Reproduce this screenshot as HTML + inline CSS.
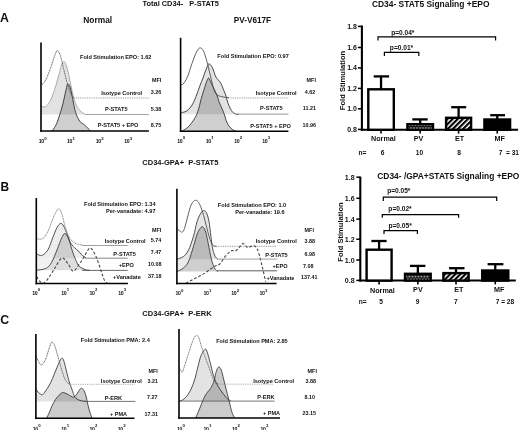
<!DOCTYPE html>
<html><head><meta charset="utf-8"><style>
html,body{margin:0;padding:0;background:#fff;width:520px;height:430px;overflow:hidden}
svg{display:block}
text{font-family:"Liberation Sans",sans-serif;stroke:none}
svg{filter:blur(0.3px)}
</style></head><body>
<svg width="520" height="430" viewBox="0 0 520 430">
<defs>
<pattern id="hatch" patternUnits="userSpaceOnUse" width="3.6" height="3.6" patternTransform="rotate(45)">
<rect width="3.6" height="3.6" fill="#fff"/><rect x="0" y="0" width="2.1" height="3.6" fill="#000"/></pattern>
<pattern id="check" patternUnits="userSpaceOnUse" width="3.0" height="5.4" x="0.4" y="0.2">
<rect width="3.0" height="5.4" fill="#000"/><rect x="0.3" y="0.3" width="1.5" height="1.5" fill="#fff"/><rect x="1.8" y="3.0" width="1.5" height="1.5" fill="#fff"/><rect x="-1.2" y="3.0" width="1.5" height="1.5" fill="#fff"/></pattern>
</defs>
<rect width="520" height="430" fill="#fff"/>
<text x="0.00" y="21.73" font-size="12.3" text-anchor="start" font-weight="bold" fill="#111" >A</text>
<text x="0.60" y="190.88" font-size="11.9" text-anchor="start" font-weight="bold" fill="#111" >B</text>
<text x="0.20" y="323.83" font-size="12.3" text-anchor="start" font-weight="bold" fill="#111" >C</text>
<text x="142.60" y="6.46" font-size="7.4" text-anchor="start" font-weight="bold" fill="#111" >Total CD34-&#160;&#160; P-STAT5</text>
<text x="83.30" y="22.62" font-size="8.4" text-anchor="start" font-weight="bold" fill="#111" >Normal</text>
<text x="233.80" y="22.55" font-size="8.2" text-anchor="start" font-weight="bold" fill="#111" >PV-V617F</text>
<text x="142.30" y="165.40" font-size="7.5" text-anchor="start" font-weight="bold" fill="#111" >CD34-GPA+&#160; P-STAT5</text>
<text x="142.30" y="315.80" font-size="7.5" text-anchor="start" font-weight="bold" fill="#111" >CD34-GPA+&#160; P-ERK</text>
<path d="M41.00,105.80 C41.50,106.00 43.00,107.05 44.00,107.00 C45.00,106.95 45.90,106.62 47.00,105.50 C48.10,104.38 49.60,102.22 50.60,100.30 C51.60,98.38 52.25,96.02 53.00,94.00 C53.75,91.98 54.43,90.28 55.10,88.20 C55.77,86.12 56.37,83.77 57.00,81.50 C57.63,79.23 58.32,76.77 58.90,74.60 C59.48,72.43 59.98,70.30 60.50,68.50 C61.02,66.70 61.38,64.97 62.00,63.80 C62.62,62.63 63.45,61.13 64.20,61.50 C64.95,61.87 65.75,63.82 66.50,66.00 C67.25,68.18 67.97,71.40 68.70,74.60 C69.43,77.80 70.15,81.67 70.90,85.20 C71.65,88.73 72.32,92.53 73.20,95.80 C74.08,99.07 75.07,102.30 76.20,104.80 C77.33,107.30 78.47,109.18 80.00,110.80 C81.53,112.42 84.50,113.88 85.40,114.50 L85.40,114.5 L41.00,114.5 Z" fill="#000" fill-opacity="0.11" stroke="none"/>
<path d="M41.00,105.80 C41.50,106.00 43.00,107.05 44.00,107.00 C45.00,106.95 45.90,106.62 47.00,105.50 C48.10,104.38 49.60,102.22 50.60,100.30 C51.60,98.38 52.25,96.02 53.00,94.00 C53.75,91.98 54.43,90.28 55.10,88.20 C55.77,86.12 56.37,83.77 57.00,81.50 C57.63,79.23 58.32,76.77 58.90,74.60 C59.48,72.43 59.98,70.30 60.50,68.50 C61.02,66.70 61.38,64.97 62.00,63.80 C62.62,62.63 63.45,61.13 64.20,61.50 C64.95,61.87 65.75,63.82 66.50,66.00 C67.25,68.18 67.97,71.40 68.70,74.60 C69.43,77.80 70.15,81.67 70.90,85.20 C71.65,88.73 72.32,92.53 73.20,95.80 C74.08,99.07 75.07,102.30 76.20,104.80 C77.33,107.30 78.47,109.18 80.00,110.80 C81.53,112.42 84.50,113.88 85.40,114.50" fill="none" stroke="#999" stroke-width="0.8" stroke-linejoin="round"/>
<path d="M52.30,130.80 C52.78,130.07 54.25,128.20 55.20,126.40 C56.15,124.60 56.77,123.57 58.00,120.00 C59.23,116.43 61.27,110.00 62.60,105.00 C63.93,100.00 65.15,93.50 66.00,90.00 C66.85,86.50 67.00,84.43 67.70,84.00 C68.40,83.57 69.42,85.17 70.20,87.40 C70.98,89.63 71.48,93.17 72.40,97.40 C73.32,101.63 74.42,108.77 75.70,112.80 C76.98,116.83 78.63,119.58 80.10,121.60 C81.57,123.62 82.85,123.43 84.50,124.90 C86.15,126.37 89.08,129.48 90.00,130.40 L90.00,131.0 L52.30,131.0 Z" fill="#000" fill-opacity="0.19" stroke="none"/>
<path d="M52.30,130.80 C52.78,130.07 54.25,128.20 55.20,126.40 C56.15,124.60 56.77,123.57 58.00,120.00 C59.23,116.43 61.27,110.00 62.60,105.00 C63.93,100.00 65.15,93.50 66.00,90.00 C66.85,86.50 67.00,84.43 67.70,84.00 C68.40,83.57 69.42,85.17 70.20,87.40 C70.98,89.63 71.48,93.17 72.40,97.40 C73.32,101.63 74.42,108.77 75.70,112.80 C76.98,116.83 78.63,119.58 80.10,121.60 C81.57,123.62 82.85,123.43 84.50,124.90 C86.15,126.37 89.08,129.48 90.00,130.40" fill="none" stroke="#333" stroke-width="0.9" stroke-linejoin="round"/>
<path d="M40.90,83.00 C41.18,83.18 41.77,84.65 42.60,84.10 C43.43,83.55 44.62,82.27 45.90,79.70 C47.18,77.13 48.82,72.75 50.30,68.70 C51.78,64.65 53.62,58.42 54.80,55.40 C55.98,52.38 56.48,50.60 57.40,50.60 C58.32,50.60 59.27,52.38 60.30,55.40 C61.33,58.42 62.50,64.28 63.60,68.70 C64.70,73.12 65.80,78.05 66.90,81.90 C68.00,85.75 69.27,89.35 70.20,91.80 C71.13,94.25 71.78,95.57 72.50,96.60 C73.22,97.63 74.17,97.77 74.50,98.00" fill="none" stroke="#444" stroke-width="0.85" stroke-linejoin="round" stroke-dasharray="1.1,0.6"/>
<line x1="74.5" y1="98.0" x2="148.9" y2="98.0" stroke="#777" stroke-width="0.8" stroke-dasharray="0.9,0.9"/>
<line x1="85" y1="114.5" x2="148.9" y2="114.5" stroke="#999" stroke-width="0.9" />
<line x1="41.0" y1="42.6" x2="41.0" y2="131.8" stroke="#000" stroke-width="1.6" />
<line x1="40.2" y1="131.0" x2="148.9" y2="131.0" stroke="#000" stroke-width="1.6" />
<text x="38.80" y="142.85" font-size="5.2" font-weight="bold" fill="#111" letter-spacing="-0.4" style="stroke-width:0.22px">10<tspan dx="0.5" dy="-3.3" font-size="4.3">0</tspan></text>
<text x="66.90" y="142.85" font-size="5.2" font-weight="bold" fill="#111" letter-spacing="-0.4" style="stroke-width:0.22px">10<tspan dx="0.5" dy="-3.3" font-size="4.3">1</tspan></text>
<text x="95.80" y="142.85" font-size="5.2" font-weight="bold" fill="#111" letter-spacing="-0.4" style="stroke-width:0.22px">10<tspan dx="0.5" dy="-3.3" font-size="4.3">2</tspan></text>
<text x="124.20" y="142.85" font-size="5.2" font-weight="bold" fill="#111" letter-spacing="-0.4" style="stroke-width:0.22px">10<tspan dx="0.5" dy="-3.3" font-size="4.3">3</tspan></text>
<text x="80.00" y="58.82" font-size="5.6" text-anchor="start" font-weight="bold" fill="#111" >Fold Stimulation EPO: 1.62</text>
<text x="161.20" y="82.44" font-size="5.3999999999999995" text-anchor="end" font-weight="bold" fill="#111" >MFI</text>
<text x="142.20" y="94.72" font-size="5.6" text-anchor="end" font-weight="bold" fill="#111" >Isotype Control</text>
<text x="161.20" y="94.14" font-size="5.3999999999999995" text-anchor="end" font-weight="bold" fill="#111" >3.26</text>
<text x="127.50" y="111.12" font-size="5.6" text-anchor="end" font-weight="bold" fill="#111" >P-STAT5</text>
<text x="161.20" y="110.94" font-size="5.3999999999999995" text-anchor="end" font-weight="bold" fill="#111" >5.38</text>
<text x="138.40" y="127.22" font-size="5.6" text-anchor="end" font-weight="bold" fill="#111" >P-STAT5 + EPO</text>
<text x="161.20" y="126.84" font-size="5.3999999999999995" text-anchor="end" font-weight="bold" fill="#111" >8.75</text>
<path d="M180.60,112.60 C181.33,112.47 183.70,112.30 185.00,111.80 C186.30,111.30 187.25,110.68 188.40,109.60 C189.55,108.52 190.88,106.87 191.90,105.30 C192.92,103.73 193.72,101.92 194.50,100.20 C195.28,98.48 195.68,97.45 196.60,95.00 C197.52,92.55 198.92,88.38 200.00,85.50 C201.08,82.62 202.18,80.12 203.10,77.70 C204.02,75.28 204.73,73.02 205.50,71.00 C206.27,68.98 207.08,66.80 207.70,65.60 C208.32,64.40 208.40,63.42 209.20,63.80 C210.00,64.18 211.38,65.70 212.50,67.90 C213.62,70.10 214.57,74.53 215.90,77.00 C217.23,79.47 219.17,80.42 220.50,82.70 C221.83,84.98 223.03,88.65 223.90,90.70 C224.77,92.75 225.17,93.40 225.70,95.00 C226.23,96.60 226.50,98.38 227.10,100.30 C227.70,102.22 228.42,104.58 229.30,106.50 C230.18,108.42 231.37,110.55 232.40,111.80 C233.43,113.05 234.48,113.58 235.50,114.00 C236.52,114.42 238.00,114.25 238.50,114.30 L238.50,114.2 L180.60,114.2 Z" fill="#000" fill-opacity="0.11" stroke="none"/>
<path d="M180.60,112.60 C181.33,112.47 183.70,112.30 185.00,111.80 C186.30,111.30 187.25,110.68 188.40,109.60 C189.55,108.52 190.88,106.87 191.90,105.30 C192.92,103.73 193.72,101.92 194.50,100.20 C195.28,98.48 195.68,97.45 196.60,95.00 C197.52,92.55 198.92,88.38 200.00,85.50 C201.08,82.62 202.18,80.12 203.10,77.70 C204.02,75.28 204.73,73.02 205.50,71.00 C206.27,68.98 207.08,66.80 207.70,65.60 C208.32,64.40 208.40,63.42 209.20,63.80 C210.00,64.18 211.38,65.70 212.50,67.90 C213.62,70.10 214.57,74.53 215.90,77.00 C217.23,79.47 219.17,80.42 220.50,82.70 C221.83,84.98 223.03,88.65 223.90,90.70 C224.77,92.75 225.17,93.40 225.70,95.00 C226.23,96.60 226.50,98.38 227.10,100.30 C227.70,102.22 228.42,104.58 229.30,106.50 C230.18,108.42 231.37,110.55 232.40,111.80 C233.43,113.05 234.48,113.58 235.50,114.00 C236.52,114.42 238.00,114.25 238.50,114.30" fill="none" stroke="#333" stroke-width="0.9" stroke-linejoin="round"/>
<path d="M182.00,130.80 C182.50,130.57 183.93,130.07 185.00,129.40 C186.07,128.73 187.25,127.95 188.40,126.80 C189.55,125.65 190.75,124.07 191.90,122.50 C193.05,120.93 194.30,119.27 195.30,117.40 C196.30,115.53 197.18,113.32 197.90,111.30 C198.62,109.28 199.03,107.45 199.60,105.30 C200.17,103.15 200.58,100.95 201.30,98.40 C202.02,95.85 203.03,92.73 203.90,90.00 C204.77,87.27 205.72,84.00 206.50,82.00 C207.28,80.00 207.93,78.08 208.60,78.00 C209.27,77.92 209.68,79.83 210.50,81.50 C211.32,83.17 212.43,85.75 213.50,88.00 C214.57,90.25 215.97,92.65 216.90,95.00 C217.83,97.35 218.28,99.90 219.10,102.10 C219.92,104.30 220.98,106.30 221.80,108.20 C222.62,110.10 223.27,111.43 224.00,113.50 C224.73,115.57 225.40,118.53 226.20,120.60 C227.00,122.67 227.77,124.43 228.80,125.90 C229.83,127.37 231.28,128.55 232.40,129.40 C233.52,130.25 234.98,130.73 235.50,131.00 L235.50,131.0 L182.00,131.0 Z" fill="#000" fill-opacity="0.19" stroke="none"/>
<path d="M182.00,130.80 C182.50,130.57 183.93,130.07 185.00,129.40 C186.07,128.73 187.25,127.95 188.40,126.80 C189.55,125.65 190.75,124.07 191.90,122.50 C193.05,120.93 194.30,119.27 195.30,117.40 C196.30,115.53 197.18,113.32 197.90,111.30 C198.62,109.28 199.03,107.45 199.60,105.30 C200.17,103.15 200.58,100.95 201.30,98.40 C202.02,95.85 203.03,92.73 203.90,90.00 C204.77,87.27 205.72,84.00 206.50,82.00 C207.28,80.00 207.93,78.08 208.60,78.00 C209.27,77.92 209.68,79.83 210.50,81.50 C211.32,83.17 212.43,85.75 213.50,88.00 C214.57,90.25 215.97,92.65 216.90,95.00 C217.83,97.35 218.28,99.90 219.10,102.10 C219.92,104.30 220.98,106.30 221.80,108.20 C222.62,110.10 223.27,111.43 224.00,113.50 C224.73,115.57 225.40,118.53 226.20,120.60 C227.00,122.67 227.77,124.43 228.80,125.90 C229.83,127.37 231.28,128.55 232.40,129.40 C233.52,130.25 234.98,130.73 235.50,131.00" fill="none" stroke="#333" stroke-width="0.9" stroke-linejoin="round"/>
<path d="M180.60,83.90 C180.97,83.97 181.67,85.45 182.80,84.30 C183.93,83.15 185.87,80.48 187.40,77.00 C188.93,73.52 190.48,67.57 192.00,63.40 C193.52,59.23 195.18,54.58 196.50,52.00 C197.82,49.42 198.75,48.10 199.90,47.90 C201.05,47.70 202.25,48.60 203.40,50.80 C204.55,53.00 205.67,57.10 206.80,61.10 C207.93,65.10 209.07,70.25 210.20,74.80 C211.33,79.35 212.47,85.07 213.60,88.40 C214.73,91.73 215.28,93.35 217.00,94.80 C218.72,96.25 221.90,96.63 223.90,97.10 C225.90,97.57 228.15,97.52 229.00,97.60" fill="none" stroke="#444" stroke-width="0.85" stroke-linejoin="round"/>
<line x1="228" y1="98.0" x2="288.4" y2="98.0" stroke="#777" stroke-width="0.8" stroke-dasharray="0.9,0.9"/>
<line x1="237" y1="114.1" x2="288.4" y2="114.1" stroke="#777" stroke-width="0.8" />
<line x1="180.6" y1="37.8" x2="180.6" y2="132.0" stroke="#000" stroke-width="1.6" />
<line x1="179.79999999999998" y1="131.2" x2="288.4" y2="131.2" stroke="#000" stroke-width="1.6" />
<text x="177.20" y="142.75" font-size="5.2" font-weight="bold" fill="#111" letter-spacing="-0.4" style="stroke-width:0.22px">10<tspan dx="0.5" dy="-3.3" font-size="4.3">0</tspan></text>
<text x="205.80" y="142.75" font-size="5.2" font-weight="bold" fill="#111" letter-spacing="-0.4" style="stroke-width:0.22px">10<tspan dx="0.5" dy="-3.3" font-size="4.3">1</tspan></text>
<text x="234.20" y="142.75" font-size="5.2" font-weight="bold" fill="#111" letter-spacing="-0.4" style="stroke-width:0.22px">10<tspan dx="0.5" dy="-3.3" font-size="4.3">2</tspan></text>
<text x="262.30" y="142.75" font-size="5.2" font-weight="bold" fill="#111" letter-spacing="-0.4" style="stroke-width:0.22px">10<tspan dx="0.5" dy="-3.3" font-size="4.3">3</tspan></text>
<text x="217.30" y="58.42" font-size="5.6" text-anchor="start" font-weight="bold" fill="#111" >Fold Stimulation EPO: 0.97</text>
<text x="315.90" y="81.94" font-size="5.3999999999999995" text-anchor="end" font-weight="bold" fill="#111" >MFI</text>
<text x="296.70" y="94.72" font-size="5.6" text-anchor="end" font-weight="bold" fill="#111" >Isotype Control</text>
<text x="315.20" y="94.24" font-size="5.3999999999999995" text-anchor="end" font-weight="bold" fill="#111" >4.62</text>
<text x="282.60" y="110.42" font-size="5.6" text-anchor="end" font-weight="bold" fill="#111" >P-STAT5</text>
<text x="315.90" y="110.14" font-size="5.3999999999999995" text-anchor="end" font-weight="bold" fill="#111" >11.21</text>
<text x="290.80" y="127.62" font-size="5.6" text-anchor="end" font-weight="bold" fill="#111" >P-STAT5 + EPO</text>
<text x="315.90" y="126.84" font-size="5.3999999999999995" text-anchor="end" font-weight="bold" fill="#111" >10.96</text>
<path d="M36.40,253.70 C37.08,254.00 39.22,255.43 40.50,255.50 C41.78,255.57 42.78,255.18 44.10,254.10 C45.42,253.02 46.95,251.77 48.40,249.00 C49.85,246.23 51.35,241.10 52.80,237.50 C54.25,233.90 55.78,229.75 57.10,227.40 C58.42,225.05 59.62,223.63 60.70,223.40 C61.78,223.17 62.63,224.48 63.60,226.00 C64.57,227.52 65.42,229.87 66.50,232.50 C67.58,235.13 68.78,239.28 70.10,241.80 C71.42,244.32 72.97,246.03 74.40,247.60 C75.83,249.17 77.50,250.00 78.70,251.20 C79.90,252.40 80.40,253.68 81.60,254.80 C82.80,255.92 85.18,257.38 85.90,257.90 L85.90,258.0 L36.40,258.0 Z" fill="#000" fill-opacity="0.07" stroke="none"/>
<path d="M36.4,258.0 L53.6,258.0 L51.4,262.8 L45.6,268.5 L36.4,270.2 Z" fill="#000" fill-opacity="0.05"/>
<path d="M36.40,270.20 C37.93,269.92 43.10,269.73 45.60,268.50 C48.10,267.27 49.47,265.97 51.40,262.80 C53.33,259.63 55.53,253.55 57.20,249.50 C58.87,245.45 60.10,241.17 61.40,238.50 C62.70,235.83 63.77,233.33 65.00,233.50 C66.23,233.67 67.60,236.67 68.80,239.50 C70.00,242.33 71.22,247.52 72.20,250.50 C73.18,253.48 73.70,254.98 74.70,257.40 C75.70,259.82 77.03,263.25 78.20,265.00 C79.37,266.75 80.35,267.07 81.70,267.90 C83.05,268.73 84.92,269.60 86.30,270.00 C87.68,270.40 89.38,270.25 90.00,270.30 L90.00,270.3 L36.40,270.3 Z" fill="#000" fill-opacity="0.13" stroke="none"/>
<path d="M36.40,270.20 C37.93,269.92 43.10,269.73 45.60,268.50 C48.10,267.27 49.47,265.97 51.40,262.80 C53.33,259.63 55.53,253.55 57.20,249.50 C58.87,245.45 60.10,241.17 61.40,238.50 C62.70,235.83 63.77,233.33 65.00,233.50 C66.23,233.67 67.60,236.67 68.80,239.50 C70.00,242.33 71.22,247.52 72.20,250.50 C73.18,253.48 73.70,254.98 74.70,257.40 C75.70,259.82 77.03,263.25 78.20,265.00 C79.37,266.75 80.35,267.07 81.70,267.90 C83.05,268.73 84.92,269.60 86.30,270.00 C87.68,270.40 89.38,270.25 90.00,270.30" fill="none" stroke="#333" stroke-width="0.85" stroke-linejoin="round"/>
<path d="M36.40,253.70 C37.08,254.00 39.22,255.43 40.50,255.50 C41.78,255.57 42.78,255.18 44.10,254.10 C45.42,253.02 46.95,251.77 48.40,249.00 C49.85,246.23 51.35,241.10 52.80,237.50 C54.25,233.90 55.78,229.75 57.10,227.40 C58.42,225.05 59.62,223.63 60.70,223.40 C61.78,223.17 62.63,224.48 63.60,226.00 C64.57,227.52 65.42,229.87 66.50,232.50 C67.58,235.13 68.78,239.28 70.10,241.80 C71.42,244.32 72.97,246.03 74.40,247.60 C75.83,249.17 77.50,250.00 78.70,251.20 C79.90,252.40 80.40,253.68 81.60,254.80 C82.80,255.92 85.18,257.38 85.90,257.90" fill="none" stroke="#333" stroke-width="0.85" stroke-linejoin="round"/>
<path d="M36.40,238.70 C37.08,238.78 39.22,239.40 40.50,239.20 C41.78,239.00 42.78,238.98 44.10,237.50 C45.42,236.02 46.83,233.67 48.40,230.30 C49.97,226.93 52.05,220.67 53.50,217.30 C54.95,213.93 56.22,211.50 57.10,210.10 C57.98,208.70 58.20,208.78 58.80,208.90 C59.40,209.02 60.03,209.40 60.70,210.80 C61.37,212.20 62.08,214.77 62.80,217.30 C63.52,219.83 64.03,222.87 65.00,226.00 C65.97,229.13 67.28,233.47 68.60,236.10 C69.92,238.73 71.45,240.48 72.90,241.80 C74.35,243.12 75.62,243.42 77.30,244.00 C78.98,244.58 82.05,245.08 83.00,245.30" fill="none" stroke="#777" stroke-width="0.85" stroke-linejoin="round" stroke-dasharray="1.2,0.5"/>
<path d="M36.60,276.50 C37.17,277.33 38.78,280.42 40.00,281.50 C41.22,282.58 42.38,283.72 43.90,283.00 C45.42,282.28 47.27,279.72 49.10,277.20 C50.93,274.68 52.77,271.10 54.90,267.90 C57.03,264.70 59.77,258.77 61.90,258.00 C64.03,257.23 65.80,261.10 67.70,263.30 C69.60,265.50 71.38,271.05 73.30,271.20 C75.22,271.35 77.45,266.52 79.20,264.20 C80.95,261.88 82.38,259.60 83.80,257.30 C85.22,255.00 86.53,251.93 87.70,250.40 C88.87,248.87 89.48,247.25 90.80,248.10 C92.12,248.95 94.22,252.72 95.60,255.50 C96.98,258.28 98.02,261.70 99.10,264.80 C100.18,267.90 101.13,271.35 102.10,274.10 C103.07,276.85 104.00,279.78 104.90,281.30 C105.80,282.82 107.07,282.88 107.50,283.20" fill="none" stroke="#444" stroke-width="1.1" stroke-dasharray="2.8,1.9"/>
<line x1="82" y1="245.5" x2="127.7" y2="245.5" stroke="#888" stroke-width="0.8" />
<line x1="85" y1="258.2" x2="127.7" y2="258.2" stroke="#666" stroke-width="0.8" />
<line x1="82" y1="270.4" x2="127.7" y2="270.4" stroke="#444" stroke-width="0.8" />
<line x1="36.3" y1="198.0" x2="36.3" y2="284.3" stroke="#000" stroke-width="1.6" />
<line x1="35.5" y1="283.5" x2="127.9" y2="283.5" stroke="#000" stroke-width="1.6" />
<text x="32.30" y="294.75" font-size="5.2" font-weight="bold" fill="#111" letter-spacing="-0.4" style="stroke-width:0.22px">10<tspan dx="0.5" dy="-3.3" font-size="4.3">0</tspan></text>
<text x="61.20" y="294.75" font-size="5.2" font-weight="bold" fill="#111" letter-spacing="-0.4" style="stroke-width:0.22px">10<tspan dx="0.5" dy="-3.3" font-size="4.3">1</tspan></text>
<text x="89.50" y="294.75" font-size="5.2" font-weight="bold" fill="#111" letter-spacing="-0.4" style="stroke-width:0.22px">10<tspan dx="0.5" dy="-3.3" font-size="4.3">2</tspan></text>
<text x="118.20" y="294.75" font-size="5.2" font-weight="bold" fill="#111" letter-spacing="-0.4" style="stroke-width:0.22px">10<tspan dx="0.5" dy="-3.3" font-size="4.3">3</tspan></text>
<text x="155.50" y="206.32" font-size="5.6" text-anchor="end" font-weight="bold" fill="#111" >Fold Stimulation EPO: 1.34</text>
<text x="155.50" y="212.62" font-size="5.6" text-anchor="end" font-weight="bold" fill="#111" >Per-vanadate: 4.97</text>
<text x="161.20" y="232.24" font-size="5.3999999999999995" text-anchor="end" font-weight="bold" fill="#111" >MFI</text>
<text x="145.70" y="242.72" font-size="5.6" text-anchor="end" font-weight="bold" fill="#111" >Isotype Control</text>
<text x="161.20" y="241.54" font-size="5.3999999999999995" text-anchor="end" font-weight="bold" fill="#111" >5.74</text>
<text x="135.80" y="255.92" font-size="5.6" text-anchor="end" font-weight="bold" fill="#111" >P-STAT5</text>
<text x="161.20" y="254.44" font-size="5.3999999999999995" text-anchor="end" font-weight="bold" fill="#111" >7.47</text>
<text x="133.80" y="267.02" font-size="5.6" text-anchor="end" font-weight="bold" fill="#111" >+EPO</text>
<text x="161.60" y="265.74" font-size="5.3999999999999995" text-anchor="end" font-weight="bold" fill="#111" >10.08</text>
<text x="140.80" y="279.32" font-size="5.6" text-anchor="end" font-weight="bold" fill="#111" >+Vanadate</text>
<text x="161.60" y="278.14" font-size="5.3999999999999995" text-anchor="end" font-weight="bold" fill="#111" >37.18</text>
<path d="M177.00,259.20 C178.05,258.77 181.40,258.08 183.30,256.60 C185.20,255.12 186.70,253.70 188.40,250.30 C190.10,246.90 192.02,241.12 193.50,236.20 C194.98,231.28 196.02,224.73 197.30,220.80 C198.58,216.87 200.13,214.30 201.20,212.60 C202.27,210.90 202.85,210.60 203.70,210.60 C204.55,210.60 205.43,210.90 206.30,212.60 C207.17,214.30 208.13,216.87 208.90,220.80 C209.67,224.73 210.27,231.50 210.90,236.20 C211.53,240.90 211.97,245.60 212.70,249.00 C213.43,252.40 214.45,254.90 215.30,256.60 C216.15,258.30 217.38,258.77 217.80,259.20 L217.80,259.2 L177.00,259.2 Z" fill="#000" fill-opacity="0.1" stroke="none"/>
<path d="M177.00,259.20 C178.05,258.77 181.40,258.08 183.30,256.60 C185.20,255.12 186.70,253.70 188.40,250.30 C190.10,246.90 192.02,241.12 193.50,236.20 C194.98,231.28 196.02,224.73 197.30,220.80 C198.58,216.87 200.13,214.30 201.20,212.60 C202.27,210.90 202.85,210.60 203.70,210.60 C204.55,210.60 205.43,210.90 206.30,212.60 C207.17,214.30 208.13,216.87 208.90,220.80 C209.67,224.73 210.27,231.50 210.90,236.20 C211.53,240.90 211.97,245.60 212.70,249.00 C213.43,252.40 214.45,254.90 215.30,256.60 C216.15,258.30 217.38,258.77 217.80,259.20" fill="none" stroke="#333" stroke-width="0.85" stroke-linejoin="round"/>
<path d="M177.0,259.2 L189.4,259.2 L188.4,261.8 L183.3,268.2 L177.0,271.5 Z" fill="#000" fill-opacity="0.08"/>
<path d="M177.00,271.50 C178.05,270.95 181.40,269.82 183.30,268.20 C185.20,266.58 186.70,265.43 188.40,261.80 C190.10,258.17 192.02,251.10 193.50,246.40 C194.98,241.70 196.02,236.80 197.30,233.60 C198.58,230.40 200.22,228.27 201.20,227.20 C202.18,226.13 202.43,226.35 203.20,227.20 C203.97,228.05 204.95,229.52 205.80,232.30 C206.65,235.08 207.37,239.42 208.30,243.90 C209.23,248.38 210.37,255.15 211.40,259.20 C212.43,263.25 213.43,266.15 214.50,268.20 C215.57,270.25 217.25,270.95 217.80,271.50 L217.80,271.5 L177.00,271.5 Z" fill="#000" fill-opacity="0.19" stroke="none"/>
<path d="M177.00,271.50 C178.05,270.95 181.40,269.82 183.30,268.20 C185.20,266.58 186.70,265.43 188.40,261.80 C190.10,258.17 192.02,251.10 193.50,246.40 C194.98,241.70 196.02,236.80 197.30,233.60 C198.58,230.40 200.22,228.27 201.20,227.20 C202.18,226.13 202.43,226.35 203.20,227.20 C203.97,228.05 204.95,229.52 205.80,232.30 C206.65,235.08 207.37,239.42 208.30,243.90 C209.23,248.38 210.37,255.15 211.40,259.20 C212.43,263.25 213.43,266.15 214.50,268.20 C215.57,270.25 217.25,270.95 217.80,271.50" fill="none" stroke="#333" stroke-width="0.85" stroke-linejoin="round"/>
<path d="M177.00,229.00 C177.53,229.35 179.37,230.55 180.20,231.10 C181.03,231.65 181.28,232.73 182.00,232.30 C182.72,231.87 183.52,231.27 184.50,228.50 C185.48,225.73 186.83,219.53 187.90,215.70 C188.97,211.87 189.88,207.97 190.90,205.50 C191.92,203.03 193.13,201.75 194.00,200.90 C194.87,200.05 195.33,200.15 196.10,200.40 C196.87,200.65 197.75,201.13 198.60,202.40 C199.45,203.67 200.35,205.78 201.20,208.00 C202.05,210.22 202.85,212.72 203.70,215.70 C204.55,218.68 205.35,222.27 206.30,225.90 C207.25,229.53 208.33,234.30 209.40,237.50 C210.47,240.70 211.52,243.62 212.70,245.10 C213.88,246.58 215.87,246.18 216.50,246.40" fill="none" stroke="#444" stroke-width="0.85" stroke-linejoin="round"/>
<path d="M185.80,283.40 C187.30,282.57 192.02,279.87 194.80,278.40 C197.58,276.93 199.95,276.10 202.50,274.60 C205.05,273.10 207.97,270.83 210.10,269.40 C212.23,267.97 213.68,266.90 215.30,266.00 C216.92,265.10 218.23,265.47 219.80,264.00 C221.37,262.53 223.28,259.02 224.70,257.20 C226.12,255.38 227.08,254.20 228.30,253.10 C229.52,252.00 230.77,250.95 232.00,250.60 C233.23,250.25 234.45,251.60 235.70,251.00 C236.95,250.40 238.28,248.25 239.50,247.00 C240.72,245.75 241.65,243.40 243.00,243.50 C244.35,243.60 246.27,247.12 247.60,247.60 C248.93,248.08 249.93,246.72 251.00,246.40 C252.07,246.08 253.05,245.43 254.00,245.70 C254.95,245.97 255.88,246.68 256.70,248.00 C257.52,249.32 257.92,250.23 258.90,253.60 C259.88,256.97 261.47,263.52 262.60,268.20 C263.73,272.88 265.18,279.45 265.70,281.70" fill="none" stroke="#444" stroke-width="1.1" stroke-dasharray="2.8,1.9"/>
<line x1="214" y1="246.3" x2="276.6" y2="246.3" stroke="#666" stroke-width="0.75" stroke-dasharray="0.9,0.9"/>
<line x1="217" y1="259.1" x2="277.2" y2="259.1" stroke="#888" stroke-width="0.8" />
<line x1="217" y1="270.8" x2="277.2" y2="270.8" stroke="#333" stroke-width="0.8" />
<line x1="176.9" y1="188.8" x2="176.9" y2="284.3" stroke="#000" stroke-width="1.6" />
<line x1="176.1" y1="283.5" x2="276.6" y2="283.5" stroke="#000" stroke-width="1.6" />
<text x="175.60" y="295.15" font-size="5.2" font-weight="bold" fill="#111" letter-spacing="-0.4" style="stroke-width:0.22px">10<tspan dx="0.5" dy="-3.3" font-size="4.3">0</tspan></text>
<text x="203.50" y="295.15" font-size="5.2" font-weight="bold" fill="#111" letter-spacing="-0.4" style="stroke-width:0.22px">10<tspan dx="0.5" dy="-3.3" font-size="4.3">1</tspan></text>
<text x="231.20" y="295.15" font-size="5.2" font-weight="bold" fill="#111" letter-spacing="-0.4" style="stroke-width:0.22px">10<tspan dx="0.5" dy="-3.3" font-size="4.3">2</tspan></text>
<text x="259.50" y="295.15" font-size="5.2" font-weight="bold" fill="#111" letter-spacing="-0.4" style="stroke-width:0.22px">10<tspan dx="0.5" dy="-3.3" font-size="4.3">3</tspan></text>
<text x="217.80" y="206.72" font-size="5.6" text-anchor="start" font-weight="bold" fill="#111" >Fold Stimulation EPO: 1.0</text>
<text x="284.60" y="213.52" font-size="5.6" text-anchor="end" font-weight="bold" fill="#111" >Per-vanadate: 19.6</text>
<text x="313.90" y="232.44" font-size="5.3999999999999995" text-anchor="end" font-weight="bold" fill="#111" >MFI</text>
<text x="296.80" y="243.32" font-size="5.6" text-anchor="end" font-weight="bold" fill="#111" >Isotype Control</text>
<text x="315.00" y="242.64" font-size="5.3999999999999995" text-anchor="end" font-weight="bold" fill="#111" >3.88</text>
<text x="287.70" y="256.82" font-size="5.6" text-anchor="end" font-weight="bold" fill="#111" >P-STAT5</text>
<text x="315.00" y="256.14" font-size="5.3999999999999995" text-anchor="end" font-weight="bold" fill="#111" >6.98</text>
<text x="287.70" y="268.32" font-size="5.6" text-anchor="end" font-weight="bold" fill="#111" >+EPO</text>
<text x="313.40" y="267.54" font-size="5.3999999999999995" text-anchor="end" font-weight="bold" fill="#111" >7.08</text>
<text x="294.40" y="279.52" font-size="5.6" text-anchor="end" font-weight="bold" fill="#111" >+Vanadate</text>
<text x="317.40" y="279.34" font-size="5.3999999999999995" text-anchor="end" font-weight="bold" fill="#111" >137.41</text>
<path d="M35.90,389.20 C36.42,389.83 37.90,392.08 39.00,393.00 C40.10,393.92 41.42,395.03 42.50,394.70 C43.58,394.37 44.42,392.48 45.50,391.00 C46.58,389.52 47.83,387.88 49.00,385.80 C50.17,383.72 51.42,380.95 52.50,378.50 C53.58,376.05 54.55,373.43 55.50,371.10 C56.45,368.77 57.38,366.38 58.20,364.50 C59.02,362.62 59.77,360.87 60.40,359.80 C61.03,358.73 61.48,358.07 62.00,358.10 C62.52,358.13 62.95,358.63 63.50,360.00 C64.05,361.37 64.47,363.08 65.30,366.30 C66.13,369.52 67.42,375.52 68.50,379.30 C69.58,383.08 70.72,386.02 71.80,389.00 C72.88,391.98 73.65,395.30 75.00,397.20 C76.35,399.10 78.00,399.70 79.90,400.40 C81.80,401.10 85.32,401.23 86.40,401.40 L86.40,401.4 L35.90,401.4 Z" fill="#000" fill-opacity="0.11" stroke="none"/>
<path d="M35.90,389.20 C36.42,389.83 37.90,392.08 39.00,393.00 C40.10,393.92 41.42,395.03 42.50,394.70 C43.58,394.37 44.42,392.48 45.50,391.00 C46.58,389.52 47.83,387.88 49.00,385.80 C50.17,383.72 51.42,380.95 52.50,378.50 C53.58,376.05 54.55,373.43 55.50,371.10 C56.45,368.77 57.38,366.38 58.20,364.50 C59.02,362.62 59.77,360.87 60.40,359.80 C61.03,358.73 61.48,358.07 62.00,358.10 C62.52,358.13 62.95,358.63 63.50,360.00 C64.05,361.37 64.47,363.08 65.30,366.30 C66.13,369.52 67.42,375.52 68.50,379.30 C69.58,383.08 70.72,386.02 71.80,389.00 C72.88,391.98 73.65,395.30 75.00,397.20 C76.35,399.10 78.00,399.70 79.90,400.40 C81.80,401.10 85.32,401.23 86.40,401.40" fill="none" stroke="#333" stroke-width="0.85" stroke-linejoin="round"/>
<path d="M46.60,418.30 C47.08,417.25 48.55,414.17 49.50,412.00 C50.45,409.83 51.30,407.38 52.30,405.30 C53.30,403.22 54.42,401.13 55.50,399.50 C56.58,397.87 57.80,396.58 58.80,395.50 C59.80,394.42 60.70,393.48 61.50,393.00 C62.30,392.52 62.85,392.52 63.60,392.60 C64.35,392.68 65.18,393.15 66.00,393.50 C66.82,393.85 67.67,394.23 68.50,394.70 C69.33,395.17 70.18,395.88 71.00,396.30 C71.82,396.72 72.65,397.28 73.40,397.20 C74.15,397.12 74.82,396.48 75.50,395.80 C76.18,395.12 76.83,394.10 77.50,393.10 C78.17,392.10 78.83,390.62 79.50,389.80 C80.17,388.98 80.88,388.25 81.50,388.20 C82.12,388.15 82.65,388.82 83.20,389.50 C83.75,390.18 84.25,390.88 84.80,392.30 C85.35,393.72 85.97,395.83 86.50,398.00 C87.03,400.17 87.42,402.88 88.00,405.30 C88.58,407.72 89.32,410.33 90.00,412.50 C90.68,414.67 91.75,417.33 92.10,418.30 L92.10,418.3 L46.60,418.3 Z" fill="#000" fill-opacity="0.2" stroke="none"/>
<path d="M46.60,418.30 C47.08,417.25 48.55,414.17 49.50,412.00 C50.45,409.83 51.30,407.38 52.30,405.30 C53.30,403.22 54.42,401.13 55.50,399.50 C56.58,397.87 57.80,396.58 58.80,395.50 C59.80,394.42 60.70,393.48 61.50,393.00 C62.30,392.52 62.85,392.52 63.60,392.60 C64.35,392.68 65.18,393.15 66.00,393.50 C66.82,393.85 67.67,394.23 68.50,394.70 C69.33,395.17 70.18,395.88 71.00,396.30 C71.82,396.72 72.65,397.28 73.40,397.20 C74.15,397.12 74.82,396.48 75.50,395.80 C76.18,395.12 76.83,394.10 77.50,393.10 C78.17,392.10 78.83,390.62 79.50,389.80 C80.17,388.98 80.88,388.25 81.50,388.20 C82.12,388.15 82.65,388.82 83.20,389.50 C83.75,390.18 84.25,390.88 84.80,392.30 C85.35,393.72 85.97,395.83 86.50,398.00 C87.03,400.17 87.42,402.88 88.00,405.30 C88.58,407.72 89.32,410.33 90.00,412.50 C90.68,414.67 91.75,417.33 92.10,418.30" fill="none" stroke="#333" stroke-width="0.85" stroke-linejoin="round"/>
<path d="M35.90,355.60 C36.33,356.58 37.62,359.93 38.50,361.50 C39.38,363.07 40.32,364.83 41.20,365.00 C42.08,365.17 42.92,363.85 43.80,362.50 C44.68,361.15 45.58,359.32 46.50,356.90 C47.42,354.48 48.40,350.47 49.30,348.00 C50.20,345.53 51.02,342.52 51.90,342.10 C52.78,341.68 53.70,343.48 54.60,345.50 C55.50,347.52 55.95,349.60 57.30,354.20 C58.65,358.80 61.25,368.63 62.70,373.10 C64.15,377.57 64.88,379.13 66.00,381.00 C67.12,382.87 68.83,383.75 69.40,384.30" fill="none" stroke="#555" stroke-width="0.85" stroke-linejoin="round" stroke-dasharray="1.2,0.5"/>
<line x1="69" y1="384.3" x2="134.5" y2="384.3" stroke="#888" stroke-width="0.75" stroke-dasharray="0.9,0.9"/>
<line x1="84" y1="401.4" x2="135.4" y2="401.4" stroke="#555" stroke-width="0.8" />
<line x1="35.9" y1="334.0" x2="35.9" y2="419.1" stroke="#000" stroke-width="1.6" />
<line x1="35.1" y1="418.3" x2="134.5" y2="418.3" stroke="#000" stroke-width="1.6" />
<text x="32.80" y="430.65" font-size="5.2" font-weight="bold" fill="#111" letter-spacing="-0.4" style="stroke-width:0.22px">10<tspan dx="0.5" dy="-3.3" font-size="4.3">0</tspan></text>
<text x="61.20" y="430.65" font-size="5.2" font-weight="bold" fill="#111" letter-spacing="-0.4" style="stroke-width:0.22px">10<tspan dx="0.5" dy="-3.3" font-size="4.3">1</tspan></text>
<text x="89.50" y="430.65" font-size="5.2" font-weight="bold" fill="#111" letter-spacing="-0.4" style="stroke-width:0.22px">10<tspan dx="0.5" dy="-3.3" font-size="4.3">2</tspan></text>
<text x="117.70" y="430.65" font-size="5.2" font-weight="bold" fill="#111" letter-spacing="-0.4" style="stroke-width:0.22px">10<tspan dx="0.5" dy="-3.3" font-size="4.3">3</tspan></text>
<text x="80.80" y="342.02" font-size="5.6" text-anchor="start" font-weight="bold" fill="#111" >Fold Stimulation PMA: 2.4</text>
<text x="157.80" y="372.74" font-size="5.3999999999999995" text-anchor="end" font-weight="bold" fill="#111" >MFI</text>
<text x="141.90" y="383.42" font-size="5.6" text-anchor="end" font-weight="bold" fill="#111" >Isotype Control</text>
<text x="158.00" y="383.14" font-size="5.3999999999999995" text-anchor="end" font-weight="bold" fill="#111" >3.21</text>
<text x="122.10" y="399.52" font-size="5.6" text-anchor="end" font-weight="bold" fill="#111" >P-ERK</text>
<text x="157.40" y="399.24" font-size="5.3999999999999995" text-anchor="end" font-weight="bold" fill="#111" >7.27</text>
<text x="127.00" y="416.08" font-size="5.5" text-anchor="end" font-weight="bold" fill="#111" >+ PMA</text>
<text x="158.00" y="415.94" font-size="5.3999999999999995" text-anchor="end" font-weight="bold" fill="#111" >17.31</text>
<path d="M179.40,401.00 C179.92,400.83 181.50,400.55 182.50,400.00 C183.50,399.45 184.43,398.70 185.40,397.70 C186.37,396.70 187.37,395.40 188.30,394.00 C189.23,392.60 190.22,390.88 191.00,389.30 C191.78,387.72 192.37,386.20 193.00,384.50 C193.63,382.80 194.25,380.93 194.80,379.10 C195.35,377.27 195.83,375.35 196.30,373.50 C196.77,371.65 196.93,370.63 197.60,368.00 C198.27,365.37 199.48,360.28 200.30,357.70 C201.12,355.12 201.87,353.75 202.50,352.50 C203.13,351.25 203.53,350.73 204.10,350.20 C204.67,349.67 205.28,348.67 205.90,349.30 C206.52,349.93 207.02,351.52 207.80,354.00 C208.58,356.48 209.67,360.63 210.60,364.20 C211.53,367.77 212.32,371.98 213.40,375.40 C214.48,378.82 215.55,381.75 217.10,384.70 C218.65,387.65 221.00,390.77 222.70,393.10 C224.40,395.43 225.90,397.37 227.30,398.70 C228.70,400.03 230.47,400.70 231.10,401.10 L231.10,401.1 L179.40,401.1 Z" fill="#000" fill-opacity="0.11" stroke="none"/>
<path d="M179.40,401.00 C179.92,400.83 181.50,400.55 182.50,400.00 C183.50,399.45 184.43,398.70 185.40,397.70 C186.37,396.70 187.37,395.40 188.30,394.00 C189.23,392.60 190.22,390.88 191.00,389.30 C191.78,387.72 192.37,386.20 193.00,384.50 C193.63,382.80 194.25,380.93 194.80,379.10 C195.35,377.27 195.83,375.35 196.30,373.50 C196.77,371.65 196.93,370.63 197.60,368.00 C198.27,365.37 199.48,360.28 200.30,357.70 C201.12,355.12 201.87,353.75 202.50,352.50 C203.13,351.25 203.53,350.73 204.10,350.20 C204.67,349.67 205.28,348.67 205.90,349.30 C206.52,349.93 207.02,351.52 207.80,354.00 C208.58,356.48 209.67,360.63 210.60,364.20 C211.53,367.77 212.32,371.98 213.40,375.40 C214.48,378.82 215.55,381.75 217.10,384.70 C218.65,387.65 221.00,390.77 222.70,393.10 C224.40,395.43 225.90,397.37 227.30,398.70 C228.70,400.03 230.47,400.70 231.10,401.10" fill="none" stroke="#333" stroke-width="0.85" stroke-linejoin="round"/>
<path d="M195.70,418.00 C196.08,417.08 197.23,414.33 198.00,412.50 C198.77,410.67 199.52,408.92 200.30,407.00 C201.08,405.08 201.92,402.85 202.70,401.00 C203.48,399.15 204.15,397.43 205.00,395.90 C205.85,394.37 206.87,393.05 207.80,391.80 C208.73,390.55 209.80,389.62 210.60,388.40 C211.40,387.18 211.98,385.90 212.60,384.50 C213.22,383.10 213.70,382.13 214.30,380.00 C214.90,377.87 215.48,373.87 216.20,371.70 C216.92,369.53 217.77,367.32 218.60,367.00 C219.43,366.68 220.37,367.78 221.20,369.80 C222.03,371.82 222.73,375.68 223.60,379.10 C224.47,382.52 225.47,386.57 226.40,390.30 C227.33,394.03 228.27,397.78 229.20,401.50 C230.13,405.22 231.07,409.85 232.00,412.60 C232.93,415.35 234.33,417.10 234.80,418.00 L234.80,418.0 L195.70,418.0 Z" fill="#000" fill-opacity="0.2" stroke="none"/>
<path d="M195.70,418.00 C196.08,417.08 197.23,414.33 198.00,412.50 C198.77,410.67 199.52,408.92 200.30,407.00 C201.08,405.08 201.92,402.85 202.70,401.00 C203.48,399.15 204.15,397.43 205.00,395.90 C205.85,394.37 206.87,393.05 207.80,391.80 C208.73,390.55 209.80,389.62 210.60,388.40 C211.40,387.18 211.98,385.90 212.60,384.50 C213.22,383.10 213.70,382.13 214.30,380.00 C214.90,377.87 215.48,373.87 216.20,371.70 C216.92,369.53 217.77,367.32 218.60,367.00 C219.43,366.68 220.37,367.78 221.20,369.80 C222.03,371.82 222.73,375.68 223.60,379.10 C224.47,382.52 225.47,386.57 226.40,390.30 C227.33,394.03 228.27,397.78 229.20,401.50 C230.13,405.22 231.07,409.85 232.00,412.60 C232.93,415.35 234.33,417.10 234.80,418.00" fill="none" stroke="#333" stroke-width="0.85" stroke-linejoin="round"/>
<path d="M179.20,367.70 C179.47,368.17 180.25,369.83 180.80,370.50 C181.35,371.17 181.67,373.12 182.50,371.70 C183.33,370.28 184.68,365.37 185.80,362.00 C186.92,358.63 188.08,354.92 189.20,351.50 C190.32,348.08 191.37,344.18 192.50,341.50 C193.63,338.82 194.95,336.02 196.00,335.40 C197.05,334.78 197.92,336.00 198.80,337.80 C199.68,339.60 200.35,343.25 201.30,346.20 C202.25,349.15 203.37,352.37 204.50,355.50 C205.63,358.63 206.93,361.83 208.10,365.00 C209.27,368.17 210.38,371.58 211.50,374.50 C212.62,377.42 213.58,380.95 214.80,382.50 C216.02,384.05 218.13,383.58 218.80,383.80" fill="none" stroke="#666" stroke-width="0.85" stroke-linejoin="round" stroke-dasharray="1.2,0.5"/>
<line x1="216" y1="384.2" x2="272.7" y2="384.2" stroke="#888" stroke-width="0.75" stroke-dasharray="0.9,0.9"/>
<line x1="179" y1="401.1" x2="274.6" y2="401.1" stroke="#555" stroke-width="0.8" />
<line x1="179.0" y1="329.0" x2="179.0" y2="418.8" stroke="#000" stroke-width="1.6" />
<line x1="178.2" y1="418.0" x2="280.0" y2="418.0" stroke="#000" stroke-width="1.6" />
<text x="176.90" y="430.65" font-size="5.2" font-weight="bold" fill="#111" letter-spacing="-0.4" style="stroke-width:0.22px">10<tspan dx="0.5" dy="-3.3" font-size="4.3">0</tspan></text>
<text x="203.50" y="430.65" font-size="5.2" font-weight="bold" fill="#111" letter-spacing="-0.4" style="stroke-width:0.22px">10<tspan dx="0.5" dy="-3.3" font-size="4.3">1</tspan></text>
<text x="231.90" y="430.65" font-size="5.2" font-weight="bold" fill="#111" letter-spacing="-0.4" style="stroke-width:0.22px">10<tspan dx="0.5" dy="-3.3" font-size="4.3">2</tspan></text>
<text x="260.50" y="430.65" font-size="5.2" font-weight="bold" fill="#111" letter-spacing="-0.4" style="stroke-width:0.22px">10<tspan dx="0.5" dy="-3.3" font-size="4.3">3</tspan></text>
<text x="216.20" y="343.30" font-size="5.55" text-anchor="start" font-weight="bold" fill="#111" >Fold Stimulation PMA: 2.85</text>
<text x="316.90" y="372.74" font-size="5.3999999999999995" text-anchor="end" font-weight="bold" fill="#111" >MFI</text>
<text x="294.20" y="383.32" font-size="5.6" text-anchor="end" font-weight="bold" fill="#111" >Isotype Control</text>
<text x="316.00" y="383.24" font-size="5.3999999999999995" text-anchor="end" font-weight="bold" fill="#111" >3.88</text>
<text x="274.60" y="399.12" font-size="5.6" text-anchor="end" font-weight="bold" fill="#111" >P-ERK</text>
<text x="315.00" y="399.04" font-size="5.3999999999999995" text-anchor="end" font-weight="bold" fill="#111" >8.10</text>
<text x="280.00" y="415.48" font-size="5.5" text-anchor="end" font-weight="bold" fill="#111" >+ PMA</text>
<text x="316.00" y="415.44" font-size="5.3999999999999995" text-anchor="end" font-weight="bold" fill="#111" >23.15</text>
<line x1="361.9" y1="25.5" x2="361.9" y2="130.8" stroke="#000" stroke-width="2.1" />
<line x1="360.9" y1="129.8" x2="518" y2="129.8" stroke="#000" stroke-width="2.0" />
<line x1="357.9" y1="129.4" x2="361.9" y2="129.4" stroke="#000" stroke-width="1.5" />
<text x="356.90" y="131.92" font-size="7.0" text-anchor="end" font-weight="bold" fill="#111" >0.8</text>
<line x1="357.9" y1="108.8" x2="361.9" y2="108.8" stroke="#000" stroke-width="1.5" />
<text x="356.90" y="111.32" font-size="7.0" text-anchor="end" font-weight="bold" fill="#111" >1.0</text>
<line x1="357.9" y1="88.4" x2="361.9" y2="88.4" stroke="#000" stroke-width="1.5" />
<text x="356.90" y="90.92" font-size="7.0" text-anchor="end" font-weight="bold" fill="#111" >1.2</text>
<line x1="357.9" y1="67.9" x2="361.9" y2="67.9" stroke="#000" stroke-width="1.5" />
<text x="356.90" y="70.42" font-size="7.0" text-anchor="end" font-weight="bold" fill="#111" >1.4</text>
<line x1="357.9" y1="47.5" x2="361.9" y2="47.5" stroke="#000" stroke-width="1.5" />
<text x="356.90" y="50.02" font-size="7.0" text-anchor="end" font-weight="bold" fill="#111" >1.6</text>
<line x1="357.9" y1="26.4" x2="361.9" y2="26.4" stroke="#000" stroke-width="1.5" />
<text x="356.90" y="28.92" font-size="7.0" text-anchor="end" font-weight="bold" fill="#111" >1.8</text>
<text x="0" y="0" font-size="7.6" font-weight="bold" fill="#111" text-anchor="middle" transform="translate(344.70,80.50) rotate(-90)">Fold Stimulation</text>
<text x="371.90" y="7.04" font-size="8.45" text-anchor="start" font-weight="bold" fill="#111" >CD34- STAT5 Signaling +EPO</text>
<line x1="381.05" y1="89.1" x2="381.05" y2="76.4" stroke="#000" stroke-width="2.3" />
<line x1="373.7" y1="76.4" x2="389.1" y2="76.4" stroke="#000" stroke-width="2.3" />
<rect x="368.30" y="89.30" width="25.50" height="40.50" fill="#fff" stroke="#000" stroke-width="2.4"/>
<line x1="381.05" y1="129.8" x2="381.05" y2="133.60000000000002" stroke="#000" stroke-width="1.6" />
<line x1="420.2" y1="124.0" x2="420.2" y2="119.4" stroke="#000" stroke-width="2.3" />
<line x1="412.3" y1="119.4" x2="427.7" y2="119.4" stroke="#000" stroke-width="2.3" />
<rect x="407.40" y="124.20" width="25.60" height="5.60" fill="url(#check)" stroke="#000" stroke-width="2.4"/>
<line x1="420.2" y1="129.8" x2="420.2" y2="133.60000000000002" stroke="#000" stroke-width="1.6" />
<line x1="458.6" y1="117.6" x2="458.6" y2="107.2" stroke="#000" stroke-width="2.3" />
<line x1="451.2" y1="107.2" x2="466.2" y2="107.2" stroke="#000" stroke-width="2.3" />
<rect x="446.10" y="117.80" width="25.00" height="12.00" fill="url(#hatch)" stroke="#000" stroke-width="2.4"/>
<line x1="458.6" y1="129.8" x2="458.6" y2="133.60000000000002" stroke="#000" stroke-width="1.6" />
<line x1="497.25" y1="119.3" x2="497.25" y2="115.2" stroke="#000" stroke-width="2.3" />
<line x1="490.2" y1="115.2" x2="505.0" y2="115.2" stroke="#000" stroke-width="2.3" />
<rect x="484.40" y="119.50" width="25.70" height="10.30" fill="#000" stroke="#000" stroke-width="2.4"/>
<line x1="497.25" y1="129.8" x2="497.25" y2="133.60000000000002" stroke="#000" stroke-width="1.6" />
<path d="M378,40.6 L378,36.9 L495.6,36.9 L495.6,40.6" fill="none" stroke="#000" stroke-width="1.2"/>
<text x="402.80" y="34.68" font-size="6.6" text-anchor="middle" font-weight="bold" fill="#111" >p=0.04*</text>
<path d="M384.4,55.9 L384.4,52.3 L418.8,52.3 L418.8,55.9" fill="none" stroke="#000" stroke-width="1.2"/>
<text x="401.50" y="50.08" font-size="6.6" text-anchor="middle" font-weight="bold" fill="#111" >p=0.01*</text>
<text x="383.40" y="141.29" font-size="7.2" text-anchor="middle" font-weight="bold" fill="#111" >Normal</text>
<text x="418.50" y="141.29" font-size="7.2" text-anchor="middle" font-weight="bold" fill="#111" >PV</text>
<text x="459.50" y="141.29" font-size="7.2" text-anchor="middle" font-weight="bold" fill="#111" >ET</text>
<text x="499.80" y="141.29" font-size="7.2" text-anchor="middle" font-weight="bold" fill="#111" >MF</text>
<text x="358.50" y="155.38" font-size="6.6" text-anchor="start" font-weight="bold" fill="#111" >n=</text>
<text x="382.60" y="155.38" font-size="6.6" text-anchor="middle" font-weight="bold" fill="#111" >6</text>
<text x="419.50" y="155.38" font-size="6.6" text-anchor="middle" font-weight="bold" fill="#111" >10</text>
<text x="459.20" y="155.38" font-size="6.6" text-anchor="middle" font-weight="bold" fill="#111" >8</text>
<text x="519.00" y="155.38" font-size="6.6" text-anchor="end" font-weight="bold" fill="#111" >7&#160; = 31</text>
<line x1="360.3" y1="176.6" x2="360.3" y2="281.6" stroke="#000" stroke-width="2.1" />
<line x1="359.3" y1="280.6" x2="515.8" y2="280.6" stroke="#000" stroke-width="2.0" />
<line x1="356.3" y1="280.4" x2="360.3" y2="280.4" stroke="#000" stroke-width="1.5" />
<text x="354.60" y="282.92" font-size="7.0" text-anchor="end" font-weight="bold" fill="#111" >0.8</text>
<line x1="356.3" y1="260.0" x2="360.3" y2="260.0" stroke="#000" stroke-width="1.5" />
<text x="354.60" y="262.52" font-size="7.0" text-anchor="end" font-weight="bold" fill="#111" >1.0</text>
<line x1="356.3" y1="239.2" x2="360.3" y2="239.2" stroke="#000" stroke-width="1.5" />
<text x="354.60" y="241.72" font-size="7.0" text-anchor="end" font-weight="bold" fill="#111" >1.2</text>
<line x1="356.3" y1="219.1" x2="360.3" y2="219.1" stroke="#000" stroke-width="1.5" />
<text x="354.60" y="221.62" font-size="7.0" text-anchor="end" font-weight="bold" fill="#111" >1.4</text>
<line x1="356.3" y1="198.3" x2="360.3" y2="198.3" stroke="#000" stroke-width="1.5" />
<text x="354.60" y="200.82" font-size="7.0" text-anchor="end" font-weight="bold" fill="#111" >1.6</text>
<line x1="356.3" y1="177.2" x2="360.3" y2="177.2" stroke="#000" stroke-width="1.5" />
<text x="354.60" y="179.72" font-size="7.0" text-anchor="end" font-weight="bold" fill="#111" >1.8</text>
<text x="0" y="0" font-size="7.6" font-weight="bold" fill="#111" text-anchor="middle" transform="translate(343.00,232.00) rotate(-90)">Fold Stimulation</text>
<text x="377.30" y="179.03" font-size="8.42" text-anchor="start" font-weight="bold" fill="#111" >CD34- /GPA+STAT5 Signaling +EPO</text>
<line x1="379.1" y1="249.5" x2="379.1" y2="241.0" stroke="#000" stroke-width="2.3" />
<line x1="371.4" y1="241.0" x2="386.6" y2="241.0" stroke="#000" stroke-width="2.3" />
<rect x="366.60" y="249.70" width="25.00" height="30.90" fill="#fff" stroke="#000" stroke-width="2.4"/>
<line x1="379.1" y1="280.6" x2="379.1" y2="284.40000000000003" stroke="#000" stroke-width="1.6" />
<line x1="417.85" y1="273.6" x2="417.85" y2="265.9" stroke="#000" stroke-width="2.3" />
<line x1="410.0" y1="265.9" x2="425.4" y2="265.9" stroke="#000" stroke-width="2.3" />
<rect x="405.00" y="273.80" width="25.70" height="6.80" fill="url(#check)" stroke="#000" stroke-width="2.4"/>
<line x1="417.85" y1="280.6" x2="417.85" y2="284.40000000000003" stroke="#000" stroke-width="1.6" />
<line x1="456.0" y1="272.9" x2="456.0" y2="268.2" stroke="#000" stroke-width="2.3" />
<line x1="449.0" y1="268.2" x2="464.5" y2="268.2" stroke="#000" stroke-width="2.3" />
<rect x="443.40" y="273.10" width="25.20" height="7.50" fill="url(#hatch)" stroke="#000" stroke-width="2.4"/>
<line x1="456.0" y1="280.6" x2="456.0" y2="284.40000000000003" stroke="#000" stroke-width="1.6" />
<line x1="495.25" y1="270.3" x2="495.25" y2="264.2" stroke="#000" stroke-width="2.3" />
<line x1="487.6" y1="264.2" x2="503.4" y2="264.2" stroke="#000" stroke-width="2.3" />
<rect x="482.20" y="270.50" width="26.10" height="10.10" fill="#000" stroke="#000" stroke-width="2.4"/>
<line x1="495.25" y1="280.6" x2="495.25" y2="284.40000000000003" stroke="#000" stroke-width="1.6" />
<path d="M383.3,201.0 L383.3,197.2 L496.7,197.2 L496.7,201.0" fill="none" stroke="#000" stroke-width="1.2"/>
<text x="398.80" y="193.28" font-size="6.6" text-anchor="middle" font-weight="bold" fill="#111" >p=0.05*</text>
<path d="M382.3,217.8 L382.3,214.6 L458.6,214.6 L458.6,217.8" fill="none" stroke="#000" stroke-width="1.2"/>
<text x="400.00" y="211.48" font-size="6.6" text-anchor="middle" font-weight="bold" fill="#111" >p=0.02*</text>
<path d="M384.0,233.9 L384.0,230.7 L417.4,230.7 L417.4,233.9" fill="none" stroke="#000" stroke-width="1.2"/>
<text x="400.10" y="228.38" font-size="6.6" text-anchor="middle" font-weight="bold" fill="#111" >p=0.05*</text>
<text x="382.40" y="292.89" font-size="7.2" text-anchor="middle" font-weight="bold" fill="#111" >Normal</text>
<text x="417.90" y="292.39" font-size="7.2" text-anchor="middle" font-weight="bold" fill="#111" >PV</text>
<text x="458.80" y="292.39" font-size="7.2" text-anchor="middle" font-weight="bold" fill="#111" >ET</text>
<text x="499.20" y="292.39" font-size="7.2" text-anchor="middle" font-weight="bold" fill="#111" >MF</text>
<text x="358.80" y="304.18" font-size="6.6" text-anchor="start" font-weight="bold" fill="#111" >n=</text>
<text x="381.20" y="304.18" font-size="6.6" text-anchor="middle" font-weight="bold" fill="#111" >5</text>
<text x="417.50" y="304.18" font-size="6.6" text-anchor="middle" font-weight="bold" fill="#111" >9</text>
<text x="455.80" y="304.18" font-size="6.6" text-anchor="middle" font-weight="bold" fill="#111" >7</text>
<text x="514.20" y="304.18" font-size="6.6" text-anchor="end" font-weight="bold" fill="#111" >7 = 28</text>
</svg>
</body></html>
